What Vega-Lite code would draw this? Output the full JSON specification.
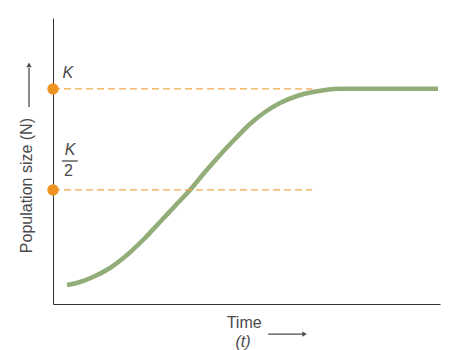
{
  "$schema": "https://vega.github.io/schema/vega-lite/v6.json",
  "width": 387,
  "height": 286,
  "autosize": {"type": "none"},
  "padding": {"left": 53, "top": 18, "right": 14, "bottom": 46},
  "background": "white",
  "config": {
    "view": {"stroke": null},
    "text": {"font": "Liberation Sans", "color": "#4a4a4a"}
  },
  "datasets": {
    "curve": [
      {"t": 3.62, "n": 6.64},
      {"t": 6.98, "n": 7.69},
      {"t": 10.34, "n": 9.44},
      {"t": 14.73, "n": 12.59},
      {"t": 19.12, "n": 17.13},
      {"t": 23.77, "n": 23.08},
      {"t": 27.65, "n": 28.67},
      {"t": 31.52, "n": 34.27},
      {"t": 35.40, "n": 39.86},
      {"t": 39.28, "n": 46.15},
      {"t": 43.15, "n": 52.10},
      {"t": 47.03, "n": 57.69},
      {"t": 50.90, "n": 62.94},
      {"t": 54.78, "n": 67.13},
      {"t": 58.66, "n": 70.28},
      {"t": 63.05, "n": 72.73},
      {"t": 67.18, "n": 74.13},
      {"t": 70.80, "n": 74.95},
      {"t": 74.16, "n": 75.25},
      {"t": 78.04, "n": 75.3},
      {"t": 99.48, "n": 75.3}
    ],
    "levels": [
      {"level": "K", "n": 75.2, "t0": 0, "t1": 67},
      {"level": "K/2", "n": 39.9, "t0": 0, "t1": 67}
    ],
    "italicLabels": [
      {"text": "K", "t": 3.8, "n": 80.6},
      {"text": "K", "t": 4.4, "n": 53.8},
      {"text": "(t)", "t": 49.1, "n": -13.3}
    ],
    "plainLabels": [
      {"text": "2", "t": 4.0, "n": 46.6},
      {"text": "Time", "t": 49.4, "n": -6.6}
    ],
    "ytitle": [
      {"text": "Population size (N)", "t": -6.7, "n": 41.4}
    ],
    "bars": [
      {"part": "fraction", "t0": 2.3, "t1": 6.4, "n0": 50.0, "n1": 50.0},
      {"part": "xarrow", "t0": 55.6, "t1": 64.5, "n0": -10.5, "n1": -10.5},
      {"part": "yarrow", "t0": -6.2, "t1": -6.2, "n0": 68.9, "n1": 82.5}
    ],
    "heads": [
      {"dir": "right", "t": 65.0, "n": -10.5},
      {"dir": "up", "t": -6.2, "n": 83.6}
    ]
  },
  "encoding": {
    "x": {"type": "quantitative", "scale": {"domain": [0, 100], "nice": false, "zero": false}},
    "y": {"type": "quantitative", "scale": {"domain": [0, 100], "nice": false, "zero": false}}
  },
  "layer": [
    {
      "data": {"name": "curve"},
      "mark": {"type": "line", "interpolate": "monotone", "color": "#93ad78", "strokeWidth": 4.5, "strokeCap": "butt"},
      "encoding": {
        "x": {"field": "t", "type": "quantitative", "axis": {"domain": true, "domainColor": "#333333", "domainWidth": 1, "ticks": false, "labels": false, "grid": false, "title": null}},
        "y": {"field": "n", "type": "quantitative", "axis": {"domain": true, "domainColor": "#333333", "domainWidth": 1, "ticks": false, "labels": false, "grid": false, "title": null}}
      }
    },
    {
      "data": {"name": "levels"},
      "mark": {"type": "rule", "color": "#f2a84f", "strokeWidth": 1.3, "strokeDash": [7, 4]},
      "encoding": {
        "x": {"field": "t0", "type": "quantitative"},
        "x2": {"field": "t1"},
        "y": {"field": "n", "type": "quantitative"}
      }
    },
    {
      "data": {"name": "levels"},
      "mark": {"type": "point", "filled": true, "color": "#ee9322", "size": 130, "opacity": 1},
      "encoding": {
        "x": {"field": "t0", "type": "quantitative"},
        "y": {"field": "n", "type": "quantitative"}
      }
    },
    {
      "data": {"name": "italicLabels"},
      "mark": {"type": "text", "fontStyle": "italic", "fontSize": 16, "align": "center", "baseline": "middle"},
      "encoding": {
        "x": {"field": "t", "type": "quantitative"},
        "y": {"field": "n", "type": "quantitative"},
        "text": {"field": "text"}
      }
    },
    {
      "data": {"name": "plainLabels"},
      "mark": {"type": "text", "fontSize": 16, "align": "center", "baseline": "middle"},
      "encoding": {
        "x": {"field": "t", "type": "quantitative"},
        "y": {"field": "n", "type": "quantitative"},
        "text": {"field": "text"}
      }
    },
    {
      "data": {"name": "ytitle"},
      "mark": {"type": "text", "fontSize": 16, "align": "center", "baseline": "middle", "angle": 270},
      "encoding": {
        "x": {"field": "t", "type": "quantitative"},
        "y": {"field": "n", "type": "quantitative"},
        "text": {"field": "text"}
      }
    },
    {
      "data": {"name": "bars"},
      "mark": {"type": "rule", "color": "#4a4a4a", "strokeWidth": 1.3},
      "encoding": {
        "x": {"field": "t0", "type": "quantitative"},
        "x2": {"field": "t1"},
        "y": {"field": "n0", "type": "quantitative"},
        "y2": {"field": "n1"}
      }
    },
    {
      "data": {"name": "heads"},
      "mark": {"type": "point", "filled": true, "color": "#4a4a4a", "size": 28, "opacity": 1},
      "encoding": {
        "x": {"field": "t", "type": "quantitative"},
        "y": {"field": "n", "type": "quantitative"},
        "shape": {"field": "dir", "type": "nominal", "scale": {"domain": ["right", "up"], "range": ["triangle-right", "triangle-up"]}, "legend": null}
      }
    }
  ]
}
